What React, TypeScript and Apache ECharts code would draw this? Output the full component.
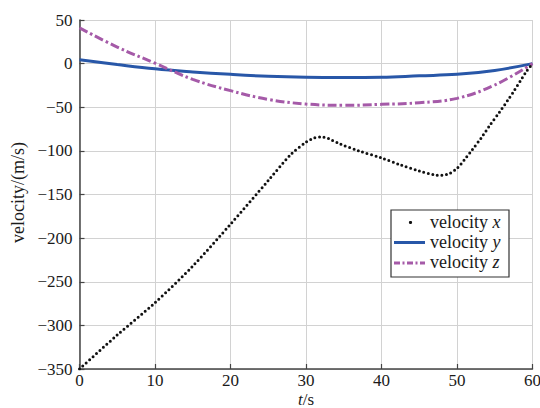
import React, { useEffect, useRef } from "react";
import * as echarts from "echarts";

const xTickValues = [0, 10, 20, 30, 40, 50, 60];
const yTickValues = [-350, -300, -250, -200, -150, -100, -50, 0, 50];

const velX: [number, number][] = [
  [0, -350], [5, -311], [10, -274], [15, -232], [20, -184], [25, -134],
  [28, -104], [30, -90], [31, -85.5], [32, -84], [33, -86], [34.5, -92],
  [37, -100], [40, -108], [42.5, -116], [45, -123], [47, -127.5], [48, -128],
  [49, -126], [50, -120], [51, -110], [52, -99], [53.3, -84], [54.4, -70],
  [55.6, -56], [56.8, -41], [57.5, -32], [58.6, -17], [59.2, -9], [60, 0],
];
const velY: [number, number][] = [
  [0, 4.5], [5, -1], [10, -6], [15, -9.5], [20, -12.3], [25, -14.5],
  [30, -15.7], [35, -16], [40, -15.7], [45, -14], [50, -12.3], [55, -7.8], [60, 0],
];
const velZ: [number, number][] = [
  [0, 41], [5, 19], [10, 0.5], [15, -18], [20, -31], [25, -41],
  [30, -46.3], [35, -47.8], [40, -46.7], [45, -44.8], [50, -39.8], [55, -24.5], [60, 0],
];
const legendNames = ["x", "y", "z"];
const yAxisTitle = "velocity/(m/s)";

const FONT = "Liberation Serif";
const BLUE = "#2857a8";
const PURPLE = "#a55aa8";
const AXIS = "#444";
const TEXT = "#1a1a1a";

const fmt = (v: number) => (v < 0 ? "\u2212" + Math.abs(v) : String(v));

export default function App() {
  const ref = useRef<HTMLDivElement>(null);
  useEffect(() => {
    if (!ref.current) return;
    const chart = echarts.init(ref.current, undefined, { renderer: "svg" });
    const lx = 391, ly = 210, lw = 118, lh = 67;
    const rows = [222.5, 242.5, 263];
    const xMin = xTickValues[0], xMax = xTickValues[xTickValues.length - 1];
    const yMin = yTickValues[0], yMax = yTickValues[yTickValues.length - 1];
    chart.setOption({
      animation: false,
      backgroundColor: "#fff",
      textStyle: { fontFamily: FONT },
      grid: { left: 79.5, right: 7.5, top: 20, bottom: 39, containLabel: false },
      xAxis: {
        type: "value",
        min: xMin, max: xMax, interval: 10,
        axisLine: { show: true, onZero: false, lineStyle: { color: AXIS, width: 1.5 } },
        axisTick: { show: true, inside: true, length: 5, lineStyle: { color: AXIS, width: 1.2 } },
        axisLabel: { show: false },
        splitLine: { show: true, lineStyle: { color: "#d2d2d2", width: 1 } },
      },
      yAxis: {
        type: "value",
        min: yMin, max: yMax, interval: 50,
        axisLine: { show: true, onZero: false, lineStyle: { color: AXIS, width: 1.5 } },
        axisTick: { show: true, inside: true, length: 5, lineStyle: { color: AXIS, width: 1.2 } },
        axisLabel: { show: false },
        splitLine: { show: true, lineStyle: { color: "#d2d2d2", width: 1 } },
      },
      series: [
        {
          name: "velocity x", type: "line", data: velX, showSymbol: false, smooth: 0.3,
          lineStyle: { color: "#111", width: 3, type: [0, 4.6], cap: "round" },
          z: 3,
        },
        {
          name: "velocity y", type: "line", data: velY, showSymbol: false, smooth: 0.4,
          lineStyle: { color: BLUE, width: 3 },
          z: 2,
        },
        {
          name: "velocity z", type: "line", data: velZ, showSymbol: false, smooth: 0.4,
          lineStyle: { color: PURPLE, width: 3, type: [9, 3, 2.5, 3] },
          z: 2,
        },
      ],
    });

    const px = (t: number, v: number) =>
      chart.convertToPixel({ gridIndex: 0 }, [t, v]) as number[];
    const base = px(xMin, yMin);
    const top = px(xMin, yMax);
    const right = px(xMax, yMin);

    const xLabels = xTickValues.map((t) => {
      const p = px(t, yMin);
      return {
        type: "text", x: p[0], y: base[1] + 3, z: 5,
        style: { text: fmt(t), fontFamily: FONT, fontSize: 17, fill: TEXT, align: "center", verticalAlign: "top" },
      };
    });
    const yLabels = yTickValues.map((v) => {
      const p = px(xMin, v);
      return {
        type: "text", x: base[0] - 7, y: p[1], z: 5,
        style: { text: fmt(v), fontFamily: FONT, fontSize: 17, fill: TEXT, align: "right", verticalAlign: "middle" },
      };
    });

    chart.setOption({
      graphic: [
        ...xLabels,
        ...yLabels,
        {
          type: "text", x: (base[0] + right[0]) / 2, y: base[1] + 30, z: 5,
          style: {
            text: "{i|t}{n|/s}", fontFamily: FONT, fontSize: 17, fill: TEXT,
            align: "center", verticalAlign: "middle",
            rich: {
              i: { fontFamily: FONT, fontSize: 17, fontStyle: "italic", fill: TEXT },
              n: { fontFamily: FONT, fontSize: 17, fill: TEXT },
            },
          },
        },
        {
          type: "text", x: 18, y: (base[1] + top[1]) / 2 - 2, rotation: Math.PI / 2, z: 5,
          style: {
            text: yAxisTitle, fontFamily: FONT, fontSize: 18, fill: TEXT,
            align: "center", verticalAlign: "middle",
          },
        },
        {
          type: "rect", shape: { x: lx, y: ly, width: lw, height: lh },
          style: { fill: "#fff", stroke: "#333", lineWidth: 1.2 }, z: 10,
        },
        {
          type: "circle", shape: { cx: 410.5, cy: rows[0], r: 1.6 },
          style: { fill: "#111" }, z: 11,
        },
        {
          type: "line", shape: { x1: 394, y1: rows[1], x2: 425, y2: rows[1] },
          style: { stroke: BLUE, lineWidth: 3 }, z: 11,
        },
        {
          type: "line", shape: { x1: 394, y1: rows[2], x2: 425, y2: rows[2] },
          style: { stroke: PURPLE, lineWidth: 3, lineDash: [6, 2.5, 2, 2.5] }, z: 11,
        },
        ...legendNames.map((n, i) => ({
          type: "text", x: 430, y: rows[i] - 1, z: 11,
          style: {
            text: "{r|velocity }{i|" + n + "}",
            fontFamily: FONT, fontSize: 18, fill: TEXT,
            verticalAlign: "middle", align: "left",
            rich: {
              r: { fontFamily: FONT, fontSize: 18, fill: TEXT },
              i: { fontFamily: FONT, fontSize: 18, fontStyle: "italic", fill: TEXT },
            },
          },
        })),
      ],
    });
    return () => chart.dispose();
  }, []);
  return <div ref={ref} style={{ width: 540, height: 408, position: "absolute", left: 0, top: 0 }} />;
}
